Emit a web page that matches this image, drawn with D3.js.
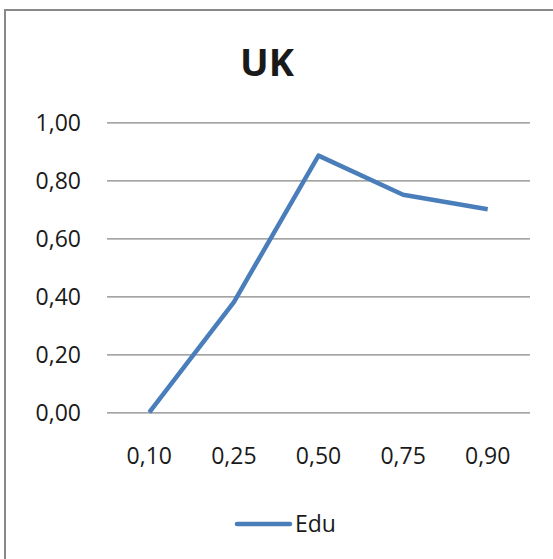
<!DOCTYPE html>
<html>
<head>
<meta charset="utf-8">
<script src="https://cdn.jsdelivr.net/npm/d3@7"></script>
<style>
  html, body { margin: 0; padding: 0; background: #fff; }
  svg { display: block; }
  text { font-family: "Open Sans", sans-serif; fill: #1a1a1a; }
</style>
</head>
<body>
<script>
// Quantiles and the Edu series values
const categories = ["0,10", "0,25", "0,50", "0,75", "0,90"];
const eduValues = [0.00, 0.38, 0.885, 0.75, 0.70];
const yTicks = [0, 0.2, 0.4, 0.6, 0.8, 1.0];
const seriesName = "Edu";
const chartTitle = "UK";

const W = 553, H = 559;
const svg = d3.select("body").append("svg").attr("width", W).attr("height", H);

// Outer chart frame
svg.append("rect")
  .attr("x", 5).attr("y", 10)
  .attr("width", W + 10).attr("height", H + 10)
  .attr("fill", "#fff")
  .attr("stroke", "#898989").attr("stroke-width", 2);

const plot = { left: 107, right: 530, top: 122.3, bottom: 412.3 };

const x = d3.scaleBand().domain(categories).range([plot.left, plot.right]);
const y = d3.scaleLinear().domain([0, 1]).range([plot.bottom, plot.top]);

const fmt = v => d3.format(".2f")(v).replace(".", ",");

// Horizontal gridlines with value labels
const yAxis = d3.axisLeft(y).tickValues(yTicks).tickFormat(fmt)
  .tickSize(-(plot.right - plot.left)).tickPadding(26);
const gy = svg.append("g").attr("transform", `translate(${plot.left},0)`).call(yAxis);
gy.select(".domain").remove();
gy.selectAll(".tick line").attr("stroke", "#868686").attr("stroke-width", 1.2);
gy.selectAll(".tick text")
  .attr("font-size", 23).attr("fill", "#1a1a1a")
  .attr("font-family", "Open Sans, sans-serif")
  .attr("dy", "0.37em");

// Category labels
const xAxis = d3.axisBottom(x).tickSize(0).tickPadding(0);
const gx = svg.append("g").attr("transform", `translate(0,${plot.bottom})`).call(xAxis);
gx.select(".domain").remove();
gx.selectAll(".tick text")
  .attr("font-size", 23).attr("fill", "#1a1a1a")
  .attr("font-family", "Open Sans, sans-serif")
  .attr("dy", 0).attr("y", 52);

// Edu line
const line = d3.line()
  .x((d, i) => x(categories[i]) + x.bandwidth() / 2)
  .y(d => y(d));
svg.append("path")
  .datum(eduValues)
  .attr("d", line)
  .attr("fill", "none")
  .attr("stroke", "#4a7ebb")
  .attr("stroke-width", 4.5)
  .attr("stroke-linejoin", "round")
  .attr("stroke-linecap", "butt");

// Title
svg.append("text")
  .attr("x", 267).attr("y", 76)
  .attr("text-anchor", "middle")
  .attr("font-size", 38).attr("font-weight", "bold")
  .attr("fill", "#000")
  .text(chartTitle);

// Legend
const lg = svg.append("g");
lg.append("line")
  .attr("x1", 237).attr("x2", 290).attr("y1", 524).attr("y2", 524)
  .attr("stroke", "#4a7ebb").attr("stroke-width", 4.5).attr("stroke-linecap", "round");
lg.append("text")
  .attr("x", 295).attr("y", 532)
  .attr("font-size", 23)
  .text(seriesName);
</script>
</body>
</html>
